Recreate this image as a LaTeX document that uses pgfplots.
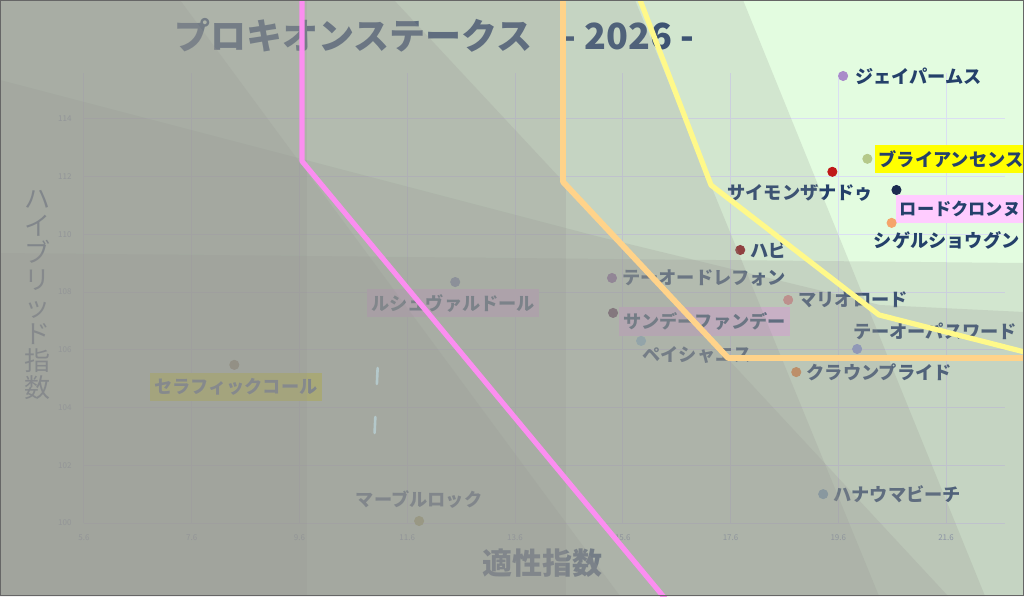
\documentclass[border=0pt]{standalone}
\usepackage{fontspec}
\setmainfont{Noto Sans CJK JP}
\usepackage{pgfplots}
\pgfplotsset{compat=1.18}

\definecolor{bgcol}{HTML}{E3FCE0}
\definecolor{gridcol}{HTML}{DADFF2}
\definecolor{labcol}{HTML}{24406A}
\definecolor{tickcol}{HTML}{8090B8}
\definecolor{ovcol}{HTML}{989894}
\definecolor{boxyellow}{HTML}{FFFF00}
\definecolor{boxpink}{HTML}{FFCCFF}
\definecolor{pinkline}{HTML}{FB8EF0}
\definecolor{orangeline}{HTML}{FFD38A}
\definecolor{yellowline}{HTML}{FFF98A}
\definecolor{dashcol}{HTML}{B4C8CA}
% dot colours
\definecolor{cJei}{HTML}{A98BC9}
\definecolor{cBri}{HTML}{B5C98A}
\definecolor{cSim}{HTML}{C01818}
\definecolor{cLor}{HTML}{1B2B4F}
\definecolor{cShi}{HTML}{F5A46A}
\definecolor{cHab}{HTML}{8E2A2A}
\definecolor{cTeL}{HTML}{8A5FA0}
\definecolor{cLuc}{HTML}{6A7FB0}
\definecolor{cMar}{HTML}{E88A88}
\definecolor{cSun}{HTML}{5A3050}
\definecolor{cPay}{HTML}{8CC8E0}
\definecolor{cTeP}{HTML}{8A9AE0}
\definecolor{cCro}{HTML}{E8883C}
\definecolor{cSer}{HTML}{806838}
\definecolor{cHan}{HTML}{6A9AC0}
\definecolor{cMab}{HTML}{A8A040}

% one horse: colour, (x,y), name, label placement
\newcommand{\horse}[4]{%
  \addplot[only marks, mark=*, mark size=2.3pt, color=#1,
    nodes near coords={#3},
    every node near coord/.append style={text=labcol,
      font=\fontsize{9.1}{9.1}\selectfont\bfseries, inner sep=0pt, #4}]
    coordinates {#2};}

\begin{document}
\begin{tikzpicture}
% 1px = 0.5pt, origin top left
\begin{scope}[x=0.5pt,y=-0.5pt]
\fill[bgcol] (0,0) rectangle (1024,596);
\end{scope}

\begin{axis}[
  at={(42pt,-261.5pt)}, anchor=south west,
  scale only axis, width=460.65pt, height=225.1pt,
  xmin=5.6, xmax=22.7, ymin=100, ymax=115.6,
  clip=false,
  axis line style={draw=none}, tick style={draw=none},
  grid=major, major grid style={color=gridcol, line width=0.5pt},
  xtick={5.6,7.6,9.6,11.6,13.6,15.6,17.6,19.6,21.6},
  xticklabels={5.6,7.6,9.6,11.6,13.6,15.6,17.6,19.6,21.6},
  ytick={100,102,104,106,108,110,112,114},
  /pgf/number format/assume math mode=true,
  xticklabel style={font=\fontsize{4}{4}\selectfont, text=tickcol, yshift=-2.5pt},
  yticklabel style={font=\fontsize{4}{4}\selectfont, text=tickcol, xshift=-2.7pt},
  title={\bfseries プロキオンステークス\hspace{15pt}- 2026 -},
  title style={at={(axis description cs:0.38,1.084)}, anchor=center, yshift=-6pt,
    font=\fontsize{18}{18}\selectfont, text=labcol},
  xlabel={\bfseries 適性指数},
  xlabel style={at={(axis description cs:0.498,-0.089)}, anchor=center,
    font=\fontsize{15}{15}\selectfont, text=labcol},
  ylabel={ハ\\イ\\ブ\\リ\\ッ\\ド\\指\\数},
  ylabel style={at={(axis description cs:-0.051,0.506)}, rotate=-90,
    anchor=center, align=center, font=\fontsize{13}{13.5}\selectfont, text=labcol},
]
\horse{cJei}{(19.69,115.49)}{ジェイパームス}{anchor=west, xshift=6pt}
\horse{cBri}{(20.14,112.62)}{ブライアンセンス}{anchor=west, xshift=3.5pt, fill=boxyellow, inner xsep=2pt, inner ysep=2.75pt}
\horse{cSim}{(19.49,112.17)}{サイモンザナドゥ}{anchor=center, xshift=-16pt, yshift=-10.5pt}
\horse{cLor}{(20.68,111.54)}{ロードクロンヌ}{anchor=north west, xshift=-0.5pt, yshift=-2.5pt, fill=boxpink, inner xsep=2pt, inner ysep=2.9pt, font=\fontsize{8.6}{8.6}\selectfont\bfseries}
\horse{cShi}{(20.59,110.40)}{シゲルショウグン}{anchor=center, xshift=27.5pt, yshift=-9pt}
\horse{cHab}{(17.78,109.46)}{ハビ}{anchor=west, xshift=5pt}
\horse{cTeL}{(15.40,108.49)}{テーオードレフォン}{anchor=west, xshift=5pt}
\horse{cLuc}{(12.49,108.35)}{ルシュヴァルドール}{anchor=center, xshift=-1pt, yshift=-10.5pt, fill=boxpink, inner xsep=2pt, inner ysep=2.75pt}
\horse{cMar}{(18.67,107.73)}{マリオロード}{anchor=west, xshift=5pt}
\horse{cSun}{(15.42,107.28)}{サンデーファンデー}{anchor=center, xshift=45.75pt, yshift=-4.5pt, fill=boxpink, inner xsep=2pt, inner ysep=2.75pt}
\horse{cPay}{(15.94,106.31)}{ペイシャエス}{anchor=center, xshift=28pt, yshift=-7pt}
\horse{cTeP}{(19.95,106.03)}{テーオーパスワード}{anchor=center, xshift=39pt, yshift=9pt}
\horse{cCro}{(18.82,105.23)}{クラウンプライド}{anchor=west, xshift=5pt}
\horse{cSer}{(8.39,105.48)}{セラフィックコール}{anchor=center, xshift=0.75pt, yshift=-11pt, fill=boxyellow, inner xsep=2pt, inner ysep=2.75pt}
\horse{cHan}{(19.32,101.00)}{ハナウマビーチ}{anchor=west, xshift=5pt}
\horse{cMab}{(11.82,100.07)}{マーブルロック}{anchor=center, yshift=11pt}
\end{axis}

% translucent grey layers laid over the chart
\begin{scope}[x=0.5pt,y=-0.5pt]
\clip (0,0) rectangle (1024,596);
\begin{scope}[fill=ovcol, fill opacity=0.22]
\fill (0,0)--(743,0)--(985,596)--(0,596)--cycle;
\fill (0,253)--(1024,263)--(1024,596)--(0,596)--cycle;
\fill (0,80)--(600,237)--(880,305)--(1024,312)--(1024,596)--(0,596)--cycle;
\fill (0,0)--(566,0)--(566,596)--(0,596)--cycle;
\fill (0,0)--(307,0)--(307,596)--(0,596)--cycle;
\fill (0,0)--(635,0)--(879,596)--(0,596)--cycle;
\fill (0,0)--(394,0)--(559,177)--(948,596)--(0,596)--cycle;
\fill (0,0)--(180,0)--(298,160)--(620,596)--(0,596)--cycle;
\end{scope}
\end{scope}

\begin{axis}[
  at={(42pt,-261.5pt)}, anchor=south west,
  scale only axis, width=460.65pt, height=225.1pt,
  xmin=5.6, xmax=22.7, ymin=100, ymax=115.6,
  clip=false, hide axis,
]
\addplot[color=dashcol, line width=1.3pt, line cap=round, dash pattern=on 8pt off 16.5pt]
  coordinates {(11.05,105.37) (10.99,102.98)};
\addplot[color=pinkline, line width=2.6pt, line join=round]
  coordinates {(9.646,118.47) (9.646,112.54) (16.56,96.99)};
\addplot[color=orangeline, line width=2.9pt, line join=round]
  coordinates {(14.491,118.47) (14.491,111.82) (17.554,105.72) (23.345,105.72)};
\addplot[color=yellowline, line width=2.6pt, line join=round]
  coordinates {(15.85,118.47) (17.238,111.71) (20.356,107.21) (23.345,105.79)};
\end{axis}

\begin{scope}[x=0.5pt,y=-0.5pt]
\draw[color=gray!80!black, line width=0.6pt] (0.6,0.6) rectangle (1023.4,595.4);
\end{scope}
\pgfresetboundingbox
\path[use as bounding box] (0,0) rectangle (512pt,-298pt);
\end{tikzpicture}
\end{document}
